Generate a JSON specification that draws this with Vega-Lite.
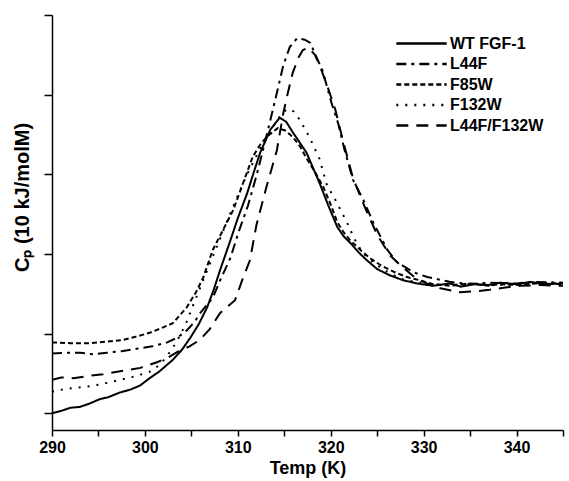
{
  "$schema": "https://vega.github.io/schema/vega-lite/v6.json",
  "width": 511,
  "height": 415,
  "autosize": {"type": "none"},
  "padding": {"left": 52, "top": 15, "right": 6, "bottom": 51},
  "background": "white",
  "config": {
    "view": {"stroke": null},
    "font": "Liberation Sans",
    "axis": {"domainColor": "black", "tickColor": "black", "domainWidth": 1.5, "tickWidth": 1.5, "grid": false, "labelColor": "black", "titleColor": "black"}
  },
  "data": {
    "values": [
      {"s":"WT FGF-1","T":290,"Cp":0},{"s":"WT FGF-1","T":291,"Cp":0.03},{"s":"WT FGF-1","T":292,"Cp":0.07},{"s":"WT FGF-1","T":293,"Cp":0.08},{"s":"WT FGF-1","T":294,"Cp":0.12},{"s":"WT FGF-1","T":295.2,"Cp":0.18},{"s":"WT FGF-1","T":296,"Cp":0.2},{"s":"WT FGF-1","T":297.3,"Cp":0.26},{"s":"WT FGF-1","T":298.5,"Cp":0.3},{"s":"WT FGF-1","T":299.5,"Cp":0.35},{"s":"WT FGF-1","T":300.5,"Cp":0.44},{"s":"WT FGF-1","T":301.5,"Cp":0.52},{"s":"WT FGF-1","T":303,"Cp":0.67},{"s":"WT FGF-1","T":304,"Cp":0.8},{"s":"WT FGF-1","T":304.9,"Cp":0.95},{"s":"WT FGF-1","T":305.8,"Cp":1.12},{"s":"WT FGF-1","T":306.7,"Cp":1.33},{"s":"WT FGF-1","T":307.4,"Cp":1.55},{"s":"WT FGF-1","T":308.1,"Cp":1.8},{"s":"WT FGF-1","T":309.2,"Cp":2.17},{"s":"WT FGF-1","T":310,"Cp":2.45},{"s":"WT FGF-1","T":311,"Cp":2.76},{"s":"WT FGF-1","T":311.7,"Cp":3.02},{"s":"WT FGF-1","T":312.4,"Cp":3.27},{"s":"WT FGF-1","T":313.5,"Cp":3.56},{"s":"WT FGF-1","T":314.5,"Cp":3.71},{"s":"WT FGF-1","T":315.2,"Cp":3.66},{"s":"WT FGF-1","T":315.9,"Cp":3.53},{"s":"WT FGF-1","T":316.6,"Cp":3.41},{"s":"WT FGF-1","T":317.4,"Cp":3.27},{"s":"WT FGF-1","T":318.1,"Cp":3.08},{"s":"WT FGF-1","T":318.8,"Cp":2.89},{"s":"WT FGF-1","T":319.7,"Cp":2.62},{"s":"WT FGF-1","T":320.7,"Cp":2.34},{"s":"WT FGF-1","T":321.4,"Cp":2.22},{"s":"WT FGF-1","T":322.1,"Cp":2.14},{"s":"WT FGF-1","T":323,"Cp":2.02},{"s":"WT FGF-1","T":323.9,"Cp":1.92},{"s":"WT FGF-1","T":325,"Cp":1.81},{"s":"WT FGF-1","T":326.4,"Cp":1.73},{"s":"WT FGF-1","T":327.8,"Cp":1.67},{"s":"WT FGF-1","T":329.3,"Cp":1.63},{"s":"WT FGF-1","T":331,"Cp":1.6},{"s":"WT FGF-1","T":332.8,"Cp":1.63},{"s":"WT FGF-1","T":334,"Cp":1.59},{"s":"WT FGF-1","T":335.5,"Cp":1.62},{"s":"WT FGF-1","T":337,"Cp":1.61},{"s":"WT FGF-1","T":338.2,"Cp":1.64},{"s":"WT FGF-1","T":340,"Cp":1.62},{"s":"WT FGF-1","T":341.5,"Cp":1.65},{"s":"WT FGF-1","T":343,"Cp":1.62},{"s":"WT FGF-1","T":345,"Cp":1.63},

      {"s":"L44F","T":290,"Cp":0.75},{"s":"L44F","T":291.5,"Cp":0.76},{"s":"L44F","T":293,"Cp":0.76},{"s":"L44F","T":294.5,"Cp":0.74},{"s":"L44F","T":295.9,"Cp":0.76},{"s":"L44F","T":297.5,"Cp":0.78},{"s":"L44F","T":299.1,"Cp":0.81},{"s":"L44F","T":300.8,"Cp":0.84},{"s":"L44F","T":302.4,"Cp":0.89},{"s":"L44F","T":303.5,"Cp":0.95},{"s":"L44F","T":304.5,"Cp":1.04},{"s":"L44F","T":305.3,"Cp":1.14},{"s":"L44F","T":305.9,"Cp":1.25},{"s":"L44F","T":306.6,"Cp":1.35},{"s":"L44F","T":307.3,"Cp":1.45},{"s":"L44F","T":308.1,"Cp":1.67},{"s":"L44F","T":309.2,"Cp":1.95},{"s":"L44F","T":310.1,"Cp":2.28},{"s":"L44F","T":311.1,"Cp":2.61},{"s":"L44F","T":312,"Cp":2.98},{"s":"L44F","T":312.7,"Cp":3.3},{"s":"L44F","T":313.5,"Cp":3.68},{"s":"L44F","T":314.2,"Cp":4.02},{"s":"L44F","T":314.9,"Cp":4.37},{"s":"L44F","T":315.6,"Cp":4.6},{"s":"L44F","T":316.4,"Cp":4.71},{"s":"L44F","T":317.2,"Cp":4.69},{"s":"L44F","T":317.8,"Cp":4.65},{"s":"L44F","T":318.5,"Cp":4.46},{"s":"L44F","T":319.1,"Cp":4.31},{"s":"L44F","T":319.6,"Cp":4.1},{"s":"L44F","T":320.1,"Cp":3.89},{"s":"L44F","T":320.8,"Cp":3.64},{"s":"L44F","T":321.5,"Cp":3.3},{"s":"L44F","T":322.4,"Cp":2.93},{"s":"L44F","T":323.5,"Cp":2.68},{"s":"L44F","T":324.6,"Cp":2.39},{"s":"L44F","T":326.1,"Cp":2.05},{"s":"L44F","T":327.1,"Cp":1.9},{"s":"L44F","T":328.9,"Cp":1.77},{"s":"L44F","T":330.4,"Cp":1.71},{"s":"L44F","T":332.8,"Cp":1.65},{"s":"L44F","T":335,"Cp":1.62},{"s":"L44F","T":337,"Cp":1.64},{"s":"L44F","T":340,"Cp":1.63},{"s":"L44F","T":342,"Cp":1.65},{"s":"L44F","T":345,"Cp":1.64},

      {"s":"F85W","T":290,"Cp":0.89},{"s":"F85W","T":292,"Cp":0.88},{"s":"F85W","T":294.1,"Cp":0.88},{"s":"F85W","T":296,"Cp":0.9},{"s":"F85W","T":297.6,"Cp":0.92},{"s":"F85W","T":299,"Cp":0.96},{"s":"F85W","T":300.5,"Cp":1.01},{"s":"F85W","T":301.8,"Cp":1.07},{"s":"F85W","T":303,"Cp":1.13},{"s":"F85W","T":304.5,"Cp":1.33},{"s":"F85W","T":305.5,"Cp":1.52},{"s":"F85W","T":306.3,"Cp":1.71},{"s":"F85W","T":307.3,"Cp":2.05},{"s":"F85W","T":308.4,"Cp":2.3},{"s":"F85W","T":309.5,"Cp":2.55},{"s":"F85W","T":310.6,"Cp":2.9},{"s":"F85W","T":311.6,"Cp":3.22},{"s":"F85W","T":312.4,"Cp":3.37},{"s":"F85W","T":313.1,"Cp":3.47},{"s":"F85W","T":314.3,"Cp":3.58},{"s":"F85W","T":315.1,"Cp":3.55},{"s":"F85W","T":315.9,"Cp":3.47},{"s":"F85W","T":316.7,"Cp":3.35},{"s":"F85W","T":317.4,"Cp":3.2},{"s":"F85W","T":318.3,"Cp":3.03},{"s":"F85W","T":319.2,"Cp":2.84},{"s":"F85W","T":320,"Cp":2.62},{"s":"F85W","T":320.7,"Cp":2.4},{"s":"F85W","T":321.4,"Cp":2.27},{"s":"F85W","T":322.1,"Cp":2.17},{"s":"F85W","T":323.2,"Cp":2.05},{"s":"F85W","T":324.2,"Cp":1.95},{"s":"F85W","T":325.5,"Cp":1.85},{"s":"F85W","T":326.9,"Cp":1.77},{"s":"F85W","T":328.2,"Cp":1.71},{"s":"F85W","T":329.6,"Cp":1.67},{"s":"F85W","T":331,"Cp":1.62},{"s":"F85W","T":332.8,"Cp":1.6},{"s":"F85W","T":335,"Cp":1.63},{"s":"F85W","T":337,"Cp":1.6},{"s":"F85W","T":338.2,"Cp":1.62},{"s":"F85W","T":340,"Cp":1.61},{"s":"F85W","T":342,"Cp":1.63},{"s":"F85W","T":345,"Cp":1.62},

      {"s":"F132W","T":290,"Cp":0.27},{"s":"F132W","T":291.2,"Cp":0.3},{"s":"F132W","T":292.5,"Cp":0.32},{"s":"F132W","T":294.1,"Cp":0.34},{"s":"F132W","T":295.5,"Cp":0.37},{"s":"F132W","T":297,"Cp":0.41},{"s":"F132W","T":298.8,"Cp":0.46},{"s":"F132W","T":300.5,"Cp":0.52},{"s":"F132W","T":301.5,"Cp":0.6},{"s":"F132W","T":302.2,"Cp":0.69},{"s":"F132W","T":303,"Cp":0.82},{"s":"F132W","T":303.8,"Cp":0.98},{"s":"F132W","T":304.5,"Cp":1.15},{"s":"F132W","T":305.1,"Cp":1.33},{"s":"F132W","T":306.3,"Cp":1.68},{"s":"F132W","T":307.6,"Cp":2.05},{"s":"F132W","T":308.7,"Cp":2.37},{"s":"F132W","T":309.8,"Cp":2.68},{"s":"F132W","T":311,"Cp":3},{"s":"F132W","T":312.3,"Cp":3.3},{"s":"F132W","T":313.8,"Cp":3.6},{"s":"F132W","T":314.6,"Cp":3.74},{"s":"F132W","T":315.3,"Cp":3.82},{"s":"F132W","T":316,"Cp":3.79},{"s":"F132W","T":316.7,"Cp":3.68},{"s":"F132W","T":317.7,"Cp":3.47},{"s":"F132W","T":318.8,"Cp":3.19},{"s":"F132W","T":319.6,"Cp":2.86},{"s":"F132W","T":320.4,"Cp":2.7},{"s":"F132W","T":321.2,"Cp":2.52},{"s":"F132W","T":321.9,"Cp":2.36},{"s":"F132W","T":322.5,"Cp":2.2},{"s":"F132W","T":323.4,"Cp":2.02},{"s":"F132W","T":324.5,"Cp":1.9},{"s":"F132W","T":325.7,"Cp":1.8},{"s":"F132W","T":327.5,"Cp":1.69},{"s":"F132W","T":329,"Cp":1.65},{"s":"F132W","T":331,"Cp":1.62},{"s":"F132W","T":333,"Cp":1.61},{"s":"F132W","T":335,"Cp":1.63},{"s":"F132W","T":337,"Cp":1.61},{"s":"F132W","T":340,"Cp":1.62},{"s":"F132W","T":342.5,"Cp":1.64},{"s":"F132W","T":345,"Cp":1.63},

      {"s":"L44F/F132W","T":290,"Cp":0.42},{"s":"L44F/F132W","T":291,"Cp":0.45},{"s":"L44F/F132W","T":292.3,"Cp":0.44},{"s":"L44F/F132W","T":294,"Cp":0.47},{"s":"L44F/F132W","T":295.5,"Cp":0.49},{"s":"L44F/F132W","T":297,"Cp":0.52},{"s":"L44F/F132W","T":298.5,"Cp":0.55},{"s":"L44F/F132W","T":299.5,"Cp":0.57},{"s":"L44F/F132W","T":301.3,"Cp":0.64},{"s":"L44F/F132W","T":302.5,"Cp":0.7},{"s":"L44F/F132W","T":303.5,"Cp":0.77},{"s":"L44F/F132W","T":304.8,"Cp":0.84},{"s":"L44F/F132W","T":305.9,"Cp":0.92},{"s":"L44F/F132W","T":307,"Cp":1.06},{"s":"L44F/F132W","T":308.1,"Cp":1.26},{"s":"L44F/F132W","T":309.7,"Cp":1.42},{"s":"L44F/F132W","T":310.5,"Cp":1.68},{"s":"L44F/F132W","T":311.3,"Cp":1.92},{"s":"L44F/F132W","T":312,"Cp":2.36},{"s":"L44F/F132W","T":313.1,"Cp":2.85},{"s":"L44F/F132W","T":314.2,"Cp":3.3},{"s":"L44F/F132W","T":314.9,"Cp":3.77},{"s":"L44F/F132W","T":315.4,"Cp":4.03},{"s":"L44F/F132W","T":315.9,"Cp":4.27},{"s":"L44F/F132W","T":316.5,"Cp":4.46},{"s":"L44F/F132W","T":317,"Cp":4.56},{"s":"L44F/F132W","T":317.6,"Cp":4.59},{"s":"L44F/F132W","T":318.3,"Cp":4.5},{"s":"L44F/F132W","T":318.8,"Cp":4.37},{"s":"L44F/F132W","T":319.6,"Cp":4.12},{"s":"L44F/F132W","T":320.5,"Cp":3.81},{"s":"L44F/F132W","T":321.3,"Cp":3.43},{"s":"L44F/F132W","T":322.4,"Cp":2.95},{"s":"L44F/F132W","T":323.7,"Cp":2.58},{"s":"L44F/F132W","T":325,"Cp":2.24},{"s":"L44F/F132W","T":326.4,"Cp":1.98},{"s":"L44F/F132W","T":327.5,"Cp":1.86},{"s":"L44F/F132W","T":329.1,"Cp":1.7},{"s":"L44F/F132W","T":330.5,"Cp":1.62},{"s":"L44F/F132W","T":331.8,"Cp":1.57},{"s":"L44F/F132W","T":333.9,"Cp":1.52},{"s":"L44F/F132W","T":335.5,"Cp":1.53},{"s":"L44F/F132W","T":337.1,"Cp":1.55},{"s":"L44F/F132W","T":338.8,"Cp":1.58},{"s":"L44F/F132W","T":340.4,"Cp":1.6},{"s":"L44F/F132W","T":342.5,"Cp":1.61},{"s":"L44F/F132W","T":345,"Cp":1.6}
    ]
  },
  "mark": {"type": "line", "color": "black", "strokeWidth": 2, "clip": true},
  "encoding": {
    "x": {
      "field": "T", "type": "quantitative",
      "scale": {"domain": [290, 345], "nice": false, "zero": false},
      "axis": {
        "title": "Temp (K)", "values": [290,295,300,305,310,315,320,325,330,335,340,345],
        "labelExpr": "datum.value % 10 == 0 && datum.value < 345 ? datum.label : ''",
        "tickSize": 6, "labelFontSize": 16, "labelFontWeight": "bold", "labelPadding": 3,
        "titleFontSize": 18, "titleFontWeight": "bold", "titlePadding": 4, "labelFlush": false
      }
    },
    "y": {
      "field": "Cp", "type": "quantitative",
      "scale": {"domain": [-0.21, 5], "nice": false, "zero": false},
      "axis": {
        "title": "Cₚ (10 kJ/molM)", "values": [0,1,2,3,4,5], "labels": false,
        "tickSize": 8, "titleFontSize": 20, "titleFontWeight": "bold",
        "titleAngle": 270, "titleX": -30, "titleY": 182, "titleAlign": "center", "titleBaseline": "middle"
      }
    },
    "strokeDash": {
      "field": "s", "type": "nominal",
      "scale": {
        "domain": ["WT FGF-1", "L44F", "F85W", "F132W", "L44F/F132W"],
        "range": [[1, 0], [10, 5, 3, 5], [5, 3], [2, 7], [12, 8]]
      },
      "legend": {
        "title": null, "orient": "none", "legendX": 359, "legendY": 18,
        "symbolType": "M-2.8,0H2.8", "symbolSize": 324, "symbolStrokeWidth": 2.5, "symbolStrokeColor": "black",
        "labelFontSize": 16, "labelFontWeight": "bold", "labelOffset": 18, "rowPadding": 1.5, "labelColor": "black"
      }
    }
  }
}
